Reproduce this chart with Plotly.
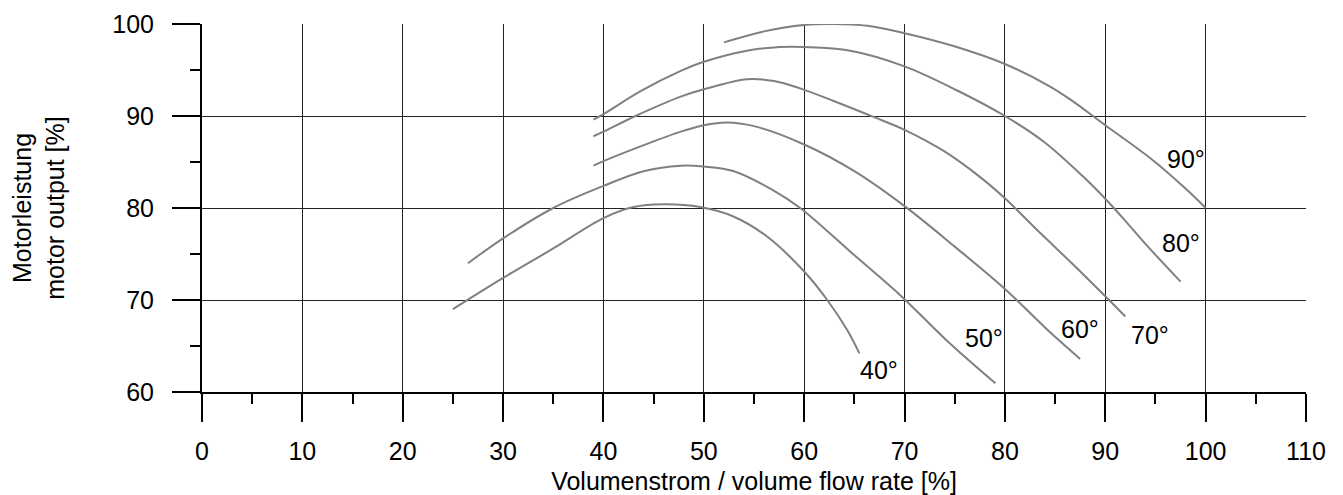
import plotly.graph_objects as go

# ---- data ----
x_ticks = [0, 10, 20, 30, 40, 50, 60, 70, 80, 90, 100, 110]
y_ticks = [60, 70, 80, 90, 100]

c40_x = [25, 30, 35, 40, 43, 46, 49.65, 53.0, 56.3, 60, 62.3, 64.3, 65.5]
c40_y = [69.0, 72.4, 75.6, 78.9, 80.1, 80.4, 80.1, 79.05, 76.9, 73.1, 70.0, 66.7, 64.2]

c50_x = [26.5, 30, 35, 40, 44, 47.7, 50, 53, 56.8, 59.6, 64.6, 69.6, 74.2, 79.05]
c50_y = [74.0, 76.7, 80.0, 82.4, 84.0, 84.6, 84.5, 84.0, 82.0, 80.0, 75.25, 70.5, 65.6, 60.95]

c60_x = [39, 40, 43.7, 47.7, 50, 52.3, 55, 60, 65, 70, 75, 80, 84.2, 87.5]
c60_y = [84.6, 85.1, 86.7, 88.3, 89.0, 89.3, 88.9, 86.9, 84.0, 80.2, 75.8, 71.2, 66.8, 63.6]

c70_x = [39, 40, 43.2, 47.7, 50, 54.3, 57, 59.6, 63, 66.9, 70, 73.9, 77.6, 80, 83.5, 86.85, 90, 92.0]
c70_y = [87.8, 88.3, 90.0, 92.1, 92.9, 94.0, 93.8, 93.0, 91.6, 89.9, 88.5, 86.2, 83.3, 81.05, 77.3, 73.8, 70.4, 68.2]

c80_x = [39, 40, 43.7, 47.7, 50, 54.3, 57.6, 60, 64.6, 70, 75.2, 80, 84, 88, 90, 92, 94, 97.5]
c80_y = [89.6, 90.2, 92.7, 94.9, 95.9, 97.1, 97.5, 97.5, 97.1, 95.4, 92.8, 90.0, 87.1, 83.2, 81.0, 78.6, 76.1, 72.0]

c90_x = [52, 56, 60, 62.9, 66.3, 70, 75.2, 80, 84.5, 86.5, 90, 94.5, 98.1, 100]
c90_y = [98.0, 99.2, 99.9, 100.0, 99.8, 99.0, 97.5, 95.65, 93.2, 91.8, 89.0, 85.4, 82.0, 80.0]

curve_names = ["40°", "50°", "60°", "70°", "80°", "90°"]
label_x = [67.5, 77.9, 87.5, 94.5, 97.5, 98.0]
label_y = [62.4, 65.9, 66.85, 66.2, 76.2, 85.3]

curves = [(c40_x, c40_y), (c50_x, c50_y), (c60_x, c60_y),
          (c70_x, c70_y), (c80_x, c80_y), (c90_x, c90_y)]

FONT = "Liberation Sans, Arial, sans-serif"
FS = 25
fig = go.Figure()
for (xs, ys), name in zip(curves, curve_names):
    fig.add_trace(go.Scatter(x=xs, y=ys, mode="lines", name=name,
                             line=dict(color="#808080", width=2, shape="spline", smoothing=1.0),
                             hoverinfo="skip"))

for name, lx, ly in zip(curve_names, label_x, label_y):
    fig.add_annotation(x=lx, y=ly, text=name, showarrow=False,
                       font=dict(family=FONT, size=FS, color="black"))

# the page body has an 8 px margin, so the figure is 8 px smaller on each axis
fig.update_layout(
    width=1335, height=487,
    margin=dict(l=194, r=37, t=16, b=103),
    paper_bgcolor="white", plot_bgcolor="white",
    showlegend=False,
    font=dict(family=FONT, size=FS, color="black"),
)
common = dict(
    showgrid=True, gridcolor="#222", gridwidth=1,
    showline=True, linecolor="black", linewidth=2,
    ticks="outside", ticklen=28, tickwidth=2, tickcolor="black",
    minor=dict(dtick=5, ticks="outside", ticklen=10, tickwidth=2, tickcolor="black", showgrid=False),
    zeroline=False, automargin=False,
    tickfont=dict(family=FONT, size=FS),
)
fig.update_xaxes(
    range=[0, 110], tickvals=x_ticks, ticktext=[str(v) for v in x_ticks],
    ticklabelstandoff=8,
    title=dict(text="Volumenstrom / volume flow rate [%]", standoff=10,
               font=dict(family=FONT, size=FS)),
    **common,
)
fig.update_yaxes(
    range=[60, 100], tickvals=y_ticks, ticktext=[str(v) for v in y_ticks],
    ticklabelstandoff=13,
    title=dict(text="Motorleistung<br>motor output [%]", standoff=61,
               font=dict(family=FONT, size=FS)),
    **common,
)

fig.write_html("out.html")
